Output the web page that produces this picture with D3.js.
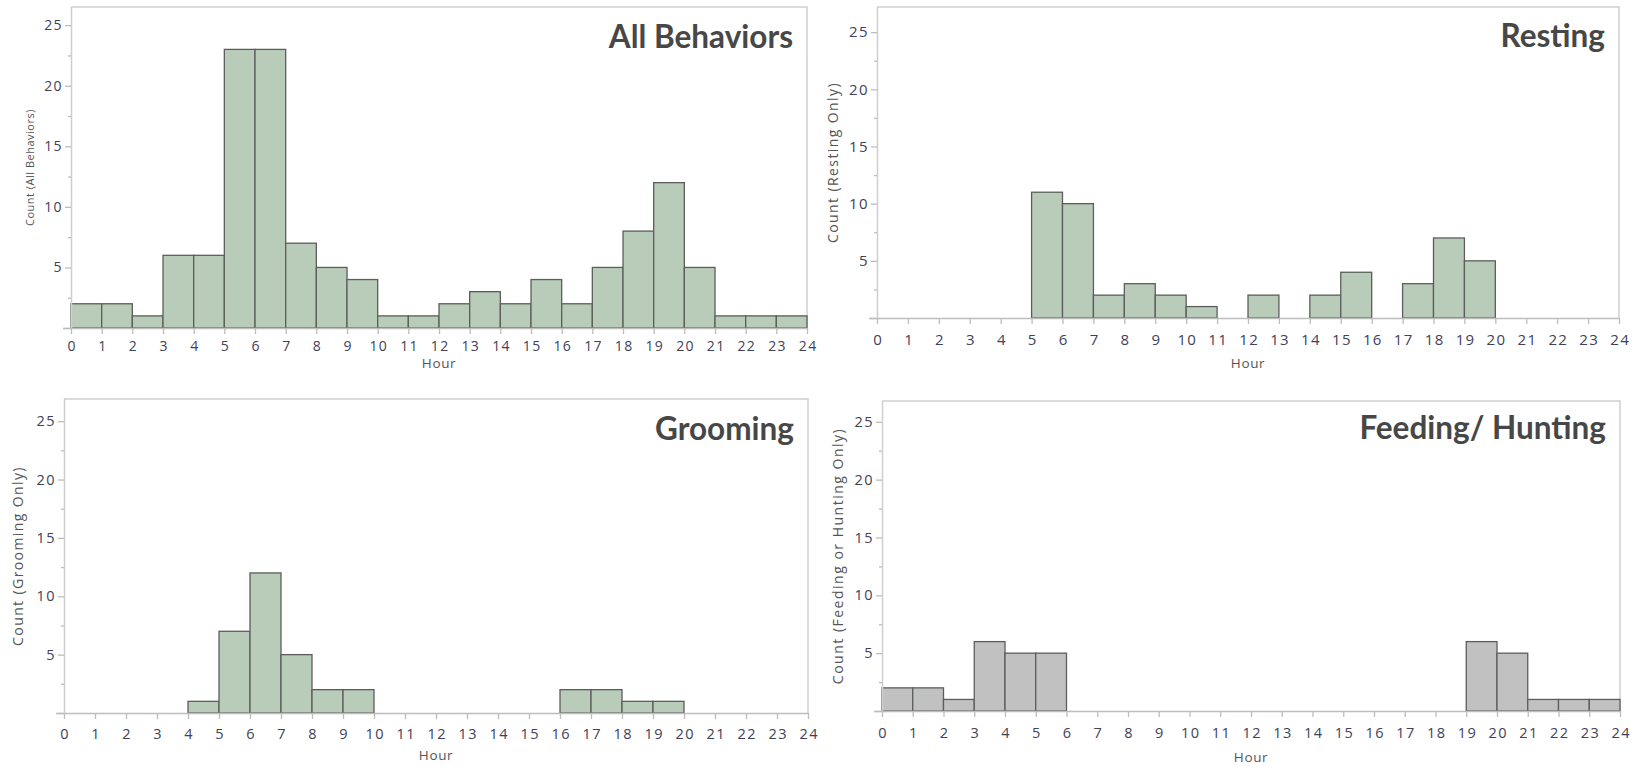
<!DOCTYPE html>
<html>
<head>
<meta charset="utf-8">
<script src="https://cdn.jsdelivr.net/npm/d3@7/dist/d3.min.js"></script>
<style>
  html, body { margin: 0; padding: 0; background: #ffffff; }
  svg { display: block; }
</style>
</head>
<body>
<svg id="chart" width="1640" height="767"></svg>
<script>
// Hourly observation counts, one bin per hour (0-1, 1-2, ... 23-24)
const hours = d3.range(24);
const allBehaviors = [2, 2, 1, 6, 6, 23, 23, 7, 5, 4, 1, 1, 2, 3, 2, 4, 2, 5, 8, 12, 5, 1, 1, 1];
const resting      = [0, 0, 0, 0, 0, 11, 10, 2, 3, 2, 1, 0, 2, 0, 2, 4, 0, 3, 7, 5, 0, 0, 0, 0];
const grooming     = [0, 0, 0, 0, 1, 7, 12, 5, 2, 2, 0, 0, 0, 0, 0, 0, 2, 2, 1, 1, 0, 0, 0, 0];
const feeding      = [2, 2, 1, 6, 5, 5, 0, 0, 0, 0, 0, 0, 0, 0, 0, 0, 0, 0, 0, 6, 5, 1, 1, 1];

const xTicks = d3.range(0, 25);
const yMajorTicks = [5, 10, 15, 20, 25];
const yMinorTicks = [0, 2.5, 7.5, 12.5, 17.5, 22.5];

const titles = ["All Behaviors", "Resting", "Grooming", "Feeding/ Hunting"];
const yLabels = ["Count (All Behaviors)", "Count (Resting Only)", "Count (Grooming Only)", "Count (Feeding or Hunting Only)"];
const seriesList = [allBehaviors, resting, grooming, feeding];

// Panel frames and styling
const panels = [
  { left: 71,  right: 807,  top: 7,   bottom: 328, yMax: 26.5, fill: "#b9cbb9",
    tickFont: 14,   yLabelFont: 11,   yLabelSp: 0.5, yLabelX: 29,  xLabelDy: 17, hourDy: 35, titleDy: 41 },
  { left: 877, right: 1619, top: 7,   bottom: 318, yMax: 27.2, fill: "#b9cbb9",
    tickFont: 15,   yLabelFont: 14,   yLabelSp: 1.4, yLabelX: 832, xLabelDy: 21, hourDy: 45, titleDy: 40 },
  { left: 64,  right: 808,  top: 399, bottom: 713, yMax: 26.9, fill: "#b9cbb9",
    tickFont: 14.5, yLabelFont: 14,   yLabelSp: 1.4, yLabelX: 17,  xLabelDy: 20, hourDy: 42, titleDy: 41 },
  { left: 882, right: 1620, top: 401, bottom: 711, yMax: 26.8, fill: "#c1c1c1",
    tickFont: 14.5, yLabelFont: 14,   yLabelSp: 1.5, yLabelX: 837, xLabelDy: 21, hourDy: 46, titleDy: 38 }
];

const svg = d3.select("#chart");
const tickFamily = "'Open Sans', 'Noto Sans', sans-serif";
const titleFamily = "Lato, 'Open Sans', sans-serif";
const labelColor = "#41415a";

panels.forEach((p, i) => {
  const data = seriesList[i];
  const x = d3.scaleLinear().domain([0, 24]).range([p.left, p.right]);
  const y = d3.scaleLinear().domain([0, p.yMax]).range([p.bottom, p.top]);
  const g = svg.append("g");

  // frame: top and right edges
  g.append("path")
    .attr("d", `M${p.left},${p.top}H${p.right}V${p.bottom}`)
    .attr("fill", "none").attr("stroke", "#cfcfcf").attr("stroke-width", 1.5);

  // bars
  g.append("g").selectAll("rect")
    .data(hours.filter(h => data[h] > 0))
    .join("rect")
    .attr("x", h => x(h))
    .attr("y", h => y(data[h]))
    .attr("width", h => x(h + 1) - x(h))
    .attr("height", h => y(0) - y(data[h]))
    .attr("fill", p.fill)
    .attr("stroke", "#5a5f5a")
    .attr("stroke-width", 1.3);

  // x axis
  const xAxis = d3.axisBottom(x).tickValues(xTicks).tickFormat(d3.format("d")).tickSize(6);
  const gx = g.append("g").attr("transform", `translate(0,${p.bottom})`).call(xAxis);
  gx.select(".domain").attr("stroke", "#bdbdbd").attr("stroke-width", 1.5)
    .attr("d", `M${p.left - 8},0.5H${p.right}`);
  gx.selectAll(".tick line").attr("stroke", "#bdbdbd").attr("stroke-width", 1.3);
  gx.selectAll(".tick text")
    .attr("y", p.xLabelDy).attr("dy", null).attr("dominant-baseline", "central")
    .attr("x", 0.7)
    .attr("fill", labelColor)
    .style("letter-spacing", "1.4px")
    .style("font-family", tickFamily).style("font-size", p.tickFont + "px");

  // y axis: labelled major ticks and short minor ticks
  const yAxis = d3.axisLeft(y).tickValues(yMajorTicks).tickFormat(d3.format("d"))
    .tickSize(6).tickPadding(2);
  const gy = g.append("g").attr("transform", `translate(${p.left},0)`).call(yAxis);
  gy.select(".domain").attr("stroke", "#cfcfcf").attr("stroke-width", 1.5)
    .attr("d", `M0.5,${p.top}V${p.bottom}`);
  gy.selectAll(".tick line").attr("stroke", "#bdbdbd").attr("stroke-width", 1.3);
  gy.selectAll(".tick text").attr("fill", labelColor)
    .style("letter-spacing", "1.4px")
    .style("font-family", tickFamily).style("font-size", p.tickFont + "px");

  const yMinor = d3.axisLeft(y).tickValues(yMinorTicks).tickFormat("").tickSize(3);
  const gm = g.append("g").attr("transform", `translate(${p.left},0)`).call(yMinor);
  gm.select(".domain").remove();
  gm.selectAll(".tick line").attr("stroke", "#bdbdbd").attr("stroke-width", 1.3);
  gm.selectAll(".tick").filter(d => d === 0).select("line").attr("x2", -7);

  // axis titles
  g.append("text")
    .attr("x", x(12)).attr("y", p.bottom + p.hourDy)
    .attr("text-anchor", "middle").attr("dominant-baseline", "central")
    .attr("fill", "#555").style("font-family", tickFamily).style("font-size", "13.5px")
    .style("letter-spacing", "0.6px")
    .text("Hour");

  g.append("text")
    .attr("transform", `translate(${p.yLabelX},${(p.top + p.bottom) / 2}) rotate(-90)`)
    .attr("text-anchor", "middle").attr("dominant-baseline", "central")
    .attr("fill", "#555").style("font-family", tickFamily).style("font-size", p.yLabelFont + "px")
    .style("letter-spacing", p.yLabelSp + "px")
    .text(yLabels[i]);

  // panel title
  g.append("text")
    .attr("x", p.right - 14).attr("y", p.top + p.titleDy)
    .attr("text-anchor", "end")
    .attr("fill", "#474747").style("font-family", titleFamily)
    .style("font-weight", "bold").style("font-size", "31.5px")
    .text(titles[i]);
});
</script>
</body>
</html>
